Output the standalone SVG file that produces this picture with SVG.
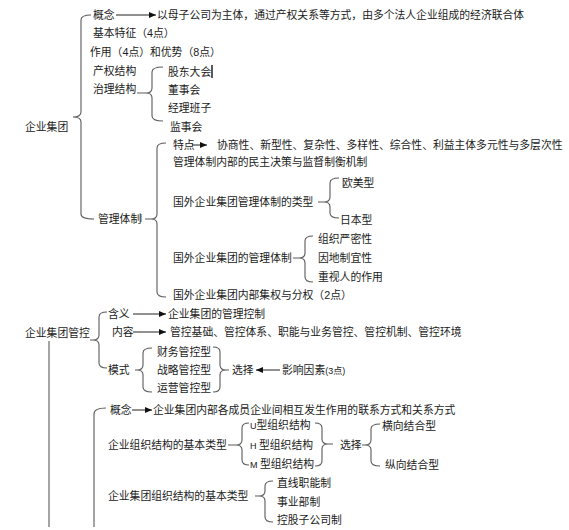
<svg xmlns="http://www.w3.org/2000/svg" width="569" height="530" viewBox="0 0 569 530">
<style>
text{font-family:"Liberation Sans","Noto Sans CJK SC",sans-serif;font-size:10.8px;fill:#1a1a1a}
.sm{font-size:9px}
.br{fill:none;stroke:#5a5a5a;stroke-width:1.1}
.ar{fill:none;stroke:#222;stroke-width:1}
</style>
<defs>
<marker id="ah" markerUnits="userSpaceOnUse" markerWidth="7" markerHeight="7" refX="7" refY="3.5" orient="auto">
<path d="M0,0.5 L7,3.5 L0,6.5 z" fill="#111"/>
</marker>
</defs>
<rect width="569" height="530" fill="#fff"/>
<g id="connectors">
<path class="br" d="M91,15 Q81,15 81,20 V112 Q81,117 73,117 Q81,117 81,122 V214 Q81,219 94,219"/>
<path class="br" d="M163,67 Q152,67 152,72 V88 Q152,93 146,93 Q152,93 152,98 V116 Q152,121 163,121 M146,93 H137"/>
<path class="br" d="M166,143 Q157,143 157,148 V214 Q157,219 151,219 Q157,219 157,224 V292 Q157,297 166,297 M151,219 H145"/>
<path class="br" d="M339,178 Q330,178 330,183 V197 Q330,202 324,202 Q330,202 330,207 V213 Q330,218 339,218 M324,202 H318"/>
<path class="br" d="M313,236 Q305,236 305,241 V253 Q305,258 299,258 Q305,258 305,263 V277 Q305,282 313,282 M299,258 H293"/>
<path class="br" d="M107,312 Q99,312 99,317 V335 Q99,340 93,340 Q99,340 99,345 V363 Q99,368 107,368 M93,340 H90"/>
<path class="br" d="M152,348 Q143,348 143,353 V365 Q143,370 137,370 Q143,370 143,375 V387 Q143,392 152,392 M137,370 H135"/>
<path class="br" d="M213,347 Q220,347 220,352 V365 Q220,370 226,370 Q220,370 220,375 V387 Q220,392 213,392 M226,370 H229"/>
<path class="br" d="M106,408 Q94,408 94,414 V527"/>
<path class="br" d="M49,341 V527"/>
<path class="br" d="M249,423 Q242,423 242,428 V440 Q242,445 236,445 Q242,445 242,450 V460 Q242,465 249,465 M236,445 H228"/>
<path class="br" d="M315,423 Q322,423 322,428 V439 Q322,444 328,444 Q322,444 322,449 V461 Q322,466 315,466 M328,444 H333"/>
<path class="br" d="M380,424 Q371,424 371,429 V440 Q371,445 365,445 Q371,445 371,450 V461 Q371,466 380,466 M365,445 H362"/>
<path class="br" d="M273,481 Q265,481 265,486 V491 Q265,496 259,496 Q265,496 265,501 V517 Q265,522 273,522 M259,496 H255"/>
<path class="ar" d="M116,15 H156" marker-end="url(#ah)"/>
<path class="ar" d="M192,145 H207" marker-end="url(#ah)"/>
<path class="ar" d="M133,314 H166" marker-end="url(#ah)"/>
<path class="ar" d="M133,332 H166" marker-end="url(#ah)"/>
<path class="ar" d="M280,370 H256" marker-end="url(#ah)"/>
<path class="ar" d="M132,410 H152" marker-end="url(#ah)"/>
<path d="M212,65 V78" stroke="#000" stroke-width="1.3"/>
<path d="M141,214 V222" stroke="#555" stroke-width="1"/>
</g>
<g id="n-qyjt"><text x="25" y="131">企业集团</text></g>
<g id="n-gainian1"><text x="93" y="19">概念</text></g>
<g id="n-gainian1-def"><text x="157" y="19">以母子公司为主体，通过产权关系等方式，由多个法人企业组成的经济联合体</text></g>
<g id="n-tezheng"><text x="93" y="37">基本特征（4点）</text></g>
<g id="n-zuoyong"><text x="90" y="56">作用（4点）和优势（8点）</text></g>
<g id="n-chanquan"><text x="93" y="75">产权结构</text></g>
<g id="n-zhili"><text x="93" y="93">治理结构</text></g>
<g id="n-gudong"><text x="168" y="76">股东大会</text></g>
<g id="n-dongshi"><text x="168" y="94">董事会</text></g>
<g id="n-jingli"><text x="168" y="112">经理班子</text></g>
<g id="n-jianshi"><text x="170" y="131">监事会</text></g>
<g id="n-guanlitizhi"><text x="98" y="223">管理体制</text></g>
<g id="n-tedian"><text x="173" y="149">特点</text></g>
<g id="n-tedian-def"><text x="217" y="149">协商性、新型性、复杂性、多样性、综合性、利益主体多元性与多层次性</text></g>
<g id="n-minzhu"><text x="173" y="166">管理体制内部的民主决策与监督制衡机制</text></g>
<g id="n-leixing"><text x="173" y="206">国外企业集团管理体制的类型</text></g>
<g id="n-oumei"><text x="342" y="187">欧美型</text></g>
<g id="n-riben"><text x="340" y="224">日本型</text></g>
<g id="n-guowai"><text x="173" y="262">国外企业集团的管理体制</text></g>
<g id="n-zuzhi"><text x="318" y="243">组织严密性</text></g>
<g id="n-yindi"><text x="318" y="262">因地制宜性</text></g>
<g id="n-zhongshi"><text x="318" y="281">重视人的作用</text></g>
<g id="n-jiquan"><text x="173" y="299">国外企业集团内部集权与分权（2点）</text></g>
<g id="n-guankong"><text x="25" y="337">企业集团管控</text></g>
<g id="n-hanyi"><text x="108" y="318">含义</text></g>
<g id="n-hanyi-def"><text x="168" y="318">企业集团的管理控制</text></g>
<g id="n-neirong"><text x="112" y="336">内容</text></g>
<g id="n-neirong-def"><text x="170" y="336">管控基础、管控体系、职能与业务管控、管控机制、管控环境</text></g>
<g id="n-moshi"><text x="108" y="374">模式</text></g>
<g id="n-caiwu"><text x="157" y="356">财务管控型</text></g>
<g id="n-zhanlue"><text x="157" y="374">战略管控型</text></g>
<g id="n-yunying"><text x="157" y="392">运营管控型</text></g>
<g id="n-xuanze1"><text x="232" y="374">选择</text></g>
<g id="n-yingxiang"><text x="282" y="374">影响因素<tspan class="sm">(3点)</tspan></text></g>
<g id="n-gainian2"><text x="110" y="414">概念</text></g>
<g id="n-gainian2-def"><text x="153" y="414">企业集团内部各成员企业间相互发生作用的联系方式和关系方式</text></g>
<g id="n-qyzz"><text x="108" y="449">企业组织结构的基本类型</text></g>
<g id="n-u"><text x="250" y="429"><tspan class="sm">U</tspan>型组织结构</text></g>
<g id="n-h"><text x="250" y="449"><tspan class="sm">H </tspan>型组织结构</text></g>
<g id="n-m"><text x="250" y="468"><tspan class="sm">M </tspan>型组织结构</text></g>
<g id="n-xuanze2"><text x="340" y="449">选择</text></g>
<g id="n-hengxiang"><text x="382" y="430">横向结合型</text></g>
<g id="n-zongxiang"><text x="385" y="469">纵向结合型</text></g>
<g id="n-jtzz"><text x="108" y="500">企业集团组织结构的基本类型</text></g>
<g id="n-zhixian"><text x="277" y="487">直线职能制</text></g>
<g id="n-shiye"><text x="277" y="506">事业部制</text></g>
<g id="n-konggu"><text x="277" y="524">控股子公司制</text></g>
</svg>
